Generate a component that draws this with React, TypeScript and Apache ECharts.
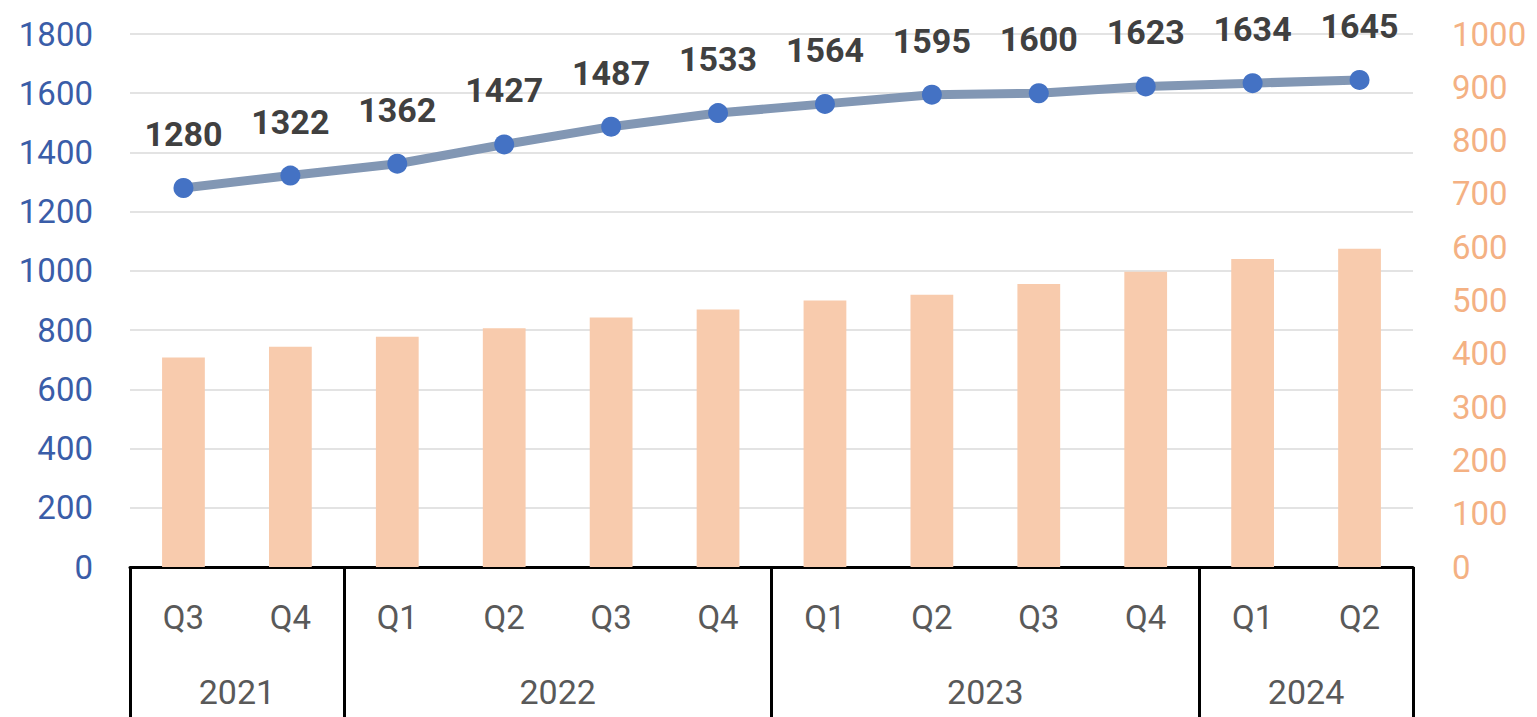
import React, { useEffect, useRef } from "react";
import * as echarts from "echarts";

const quarters = ["Q3", "Q4", "Q1", "Q2", "Q3", "Q4", "Q1", "Q2", "Q3", "Q4", "Q1", "Q2"];
const yearNames = ["2021", "2022", "2023", "2024"];
const yearCounts = [2, 4, 4, 2];
const barValues = [393, 413, 432, 448, 468, 483, 500, 511, 531, 554, 578, 597];
const lineValues = [1280, 1322, 1362, 1427, 1487, 1533, 1564, 1595, 1600, 1623, 1634, 1645];
const leftTicks = { min: 0, max: 1800, interval: 200 };
const rightTicks = { min: 0, max: 1000, interval: 100 };

export default function App() {
  const ref = useRef<HTMLDivElement>(null);
  useEffect(() => {
    if (!ref.current) return;
    const chart = echarts.init(ref.current, null, { renderer: "svg" });
    const starts: number[] = [];
    const centers: Record<number, string> = {};
    let acc = 0;
    yearCounts.forEach((c, i) => {
      starts.push(acc);
      centers[acc + c / 2] = yearNames[i];
      acc += c;
    });
    const font = "Roboto, 'Noto Sans', sans-serif";
    const plain = (v: number) => String(v);
    chart.setOption({
      animation: false,
      grid: { left: 130, right: 124, top: 34, bottom: 150, containLabel: false },
      xAxis: [
        {
          type: "category",
          data: quarters,
          position: "bottom",
          axisLine: { show: true, lineStyle: { color: "#000", width: 3 } },
          axisTick: {
            show: true,
            alignWithLabel: false,
            length: 152,
            interval: (index: number) => starts.includes(index),
            lineStyle: { color: "#000", width: 3 },
          },
          axisLabel: { color: "#595959", fontSize: 33, fontFamily: font, margin: 34, interval: 0 },
          splitLine: { show: false },
        },
        {
          type: "value",
          min: 0,
          max: acc,
          interval: 1,
          position: "bottom",
          offset: 100,
          axisLine: { show: false },
          axisTick: { show: false },
          splitLine: { show: false },
          axisLabel: {
            color: "#595959",
            fontSize: 34,
            fontFamily: font,
            margin: 8,
            showMinLabel: true,
            showMaxLabel: true,
            formatter: (v: number) => centers[v] ?? "",
          },
        },
      ],
      yAxis: [
        {
          type: "value",
          ...leftTicks,
          position: "left",
          axisLine: { show: false },
          axisTick: { show: false },
          axisLabel: { color: "#3A5DA8", fontSize: 33, fontFamily: font, margin: 37, formatter: plain },
          splitLine: { show: true, lineStyle: { color: "#e3e3e3", width: 2 } },
        },
        {
          type: "value",
          ...rightTicks,
          position: "right",
          axisLine: { show: false },
          axisTick: { show: false },
          axisLabel: { color: "#F4B183", fontSize: 33, fontFamily: font, margin: 39, formatter: plain },
          splitLine: { show: false },
        },
      ],
      series: [
        {
          type: "bar",
          data: barValues,
          xAxisIndex: 0,
          yAxisIndex: 1,
          barWidth: "40%",
          itemStyle: { color: "#F8CBAD" },
          z: 1,
        },
        {
          type: "line",
          data: lineValues,
          xAxisIndex: 0,
          yAxisIndex: 0,
          symbol: "circle",
          symbolSize: 20,
          lineStyle: { color: "#8297B4", width: 9 },
          itemStyle: { color: "#4472C4" },
          label: {
            show: true,
            position: "top",
            distance: 27,
            color: "#404040",
            fontSize: 34,
            fontWeight: "bold",
            fontFamily: font,
          },
          z: 3,
        },
      ],
    });
    return () => chart.dispose();
  }, []);
  return (
    <div
      ref={ref}
      style={{ position: "absolute", left: 0, top: 0, width: 1537, height: 717, background: "#fff" }}
    />
  );
}
